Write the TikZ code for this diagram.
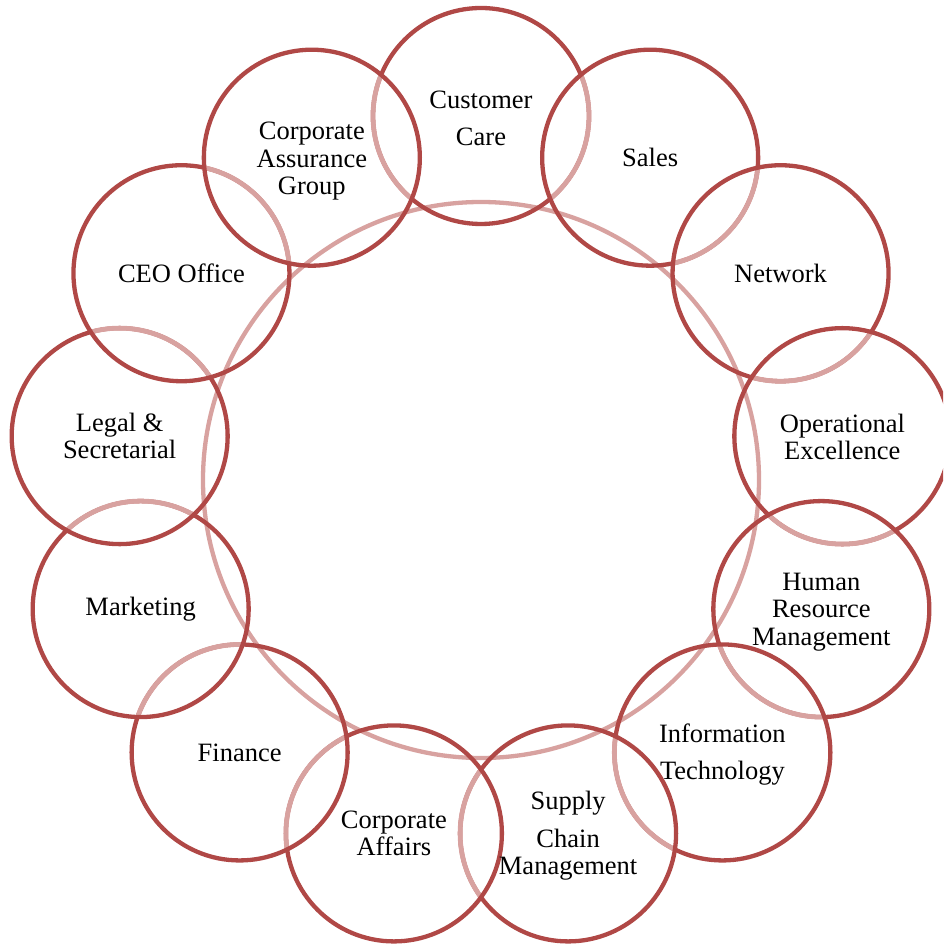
\documentclass[tikz,border=0pt]{standalone}
\usepackage{fontspec}
\setmainfont{Liberation Serif}
\definecolor{ringdark}{RGB}{176,72,70}
\definecolor{ringlight}{RGB}{216,162,160}
\begin{document}
\begin{tikzpicture}[x=1pt,y=1pt,
  ring/.style={circle, draw=ringdark, line width=4.3pt, minimum size=216pt, inner sep=0pt},
  ringlt/.style={draw=ringlight, line width=4.8pt},
  hubring/.style={circle, draw=ringlight, line width=4.3pt, minimum size=556pt, inner sep=0pt},
  lbl/.style={align=center, font=\fontsize{26.5}{27.5}\selectfont, inner sep=0pt}]
\useasboundingbox (-481,-464) rectangle (462,480);
\clip (-481,-464) rectangle (462,480);
\node[hubring] (hub) at (0,0) {};
\foreach \k in {0,...,12} {
  \coordinate (p\k) at ({90-\k*360/13}:364);
}
\node[ring] (c0) at (p0) {};
\foreach \k in {1,...,12} {
  \pgfmathtruncatemacro\prev{\k-1}
  \begin{scope}
    \clip (p\k) circle (107.5);
    \draw[ringlt] (p\prev) circle (108);
    \ifnum\k=12 \draw[ringlt] (p0) circle (108); \fi
  \end{scope}
  \node[ring] (c\k) at (p\k) {};
}
\node[lbl] (t0) at ([yshift=-2pt]c0.center) {Customer\\[9.5pt]Care};
\node[lbl] (t1) at (c1.center) {Sales};
\node[lbl] (t2) at (c2.center) {Network};
\node[lbl] (t3) at ([yshift=-1pt]c3.center) {Operational\\Excellence};
\node[lbl] (t4) at ([yshift=-3pt]c4.center) {Human\\Resource\\Management};
\node[lbl] (t5) at ([yshift=-2pt]c5.center) {Information\\[10pt]Technology};
\node[lbl] (t6) at ([yshift=-2.5pt]c6.center) {Supply\\[10pt]Chain\\Management};
\node[lbl] (t7) at (c7.center) {Corporate\\Affairs};
\node[lbl] (t8) at (c8.center) {Finance};
\node[lbl] (t9) at (c9.center) {Marketing};
\node[lbl] (t10) at (c10.center) {Legal \&\\Secretarial};
\node[lbl] (t11) at (c11.center) {CEO Office};
\node[lbl] (t12) at ([yshift=-3.5pt]c12.center) {Corporate\\Assurance\\Group};
\end{tikzpicture}
\end{document}
